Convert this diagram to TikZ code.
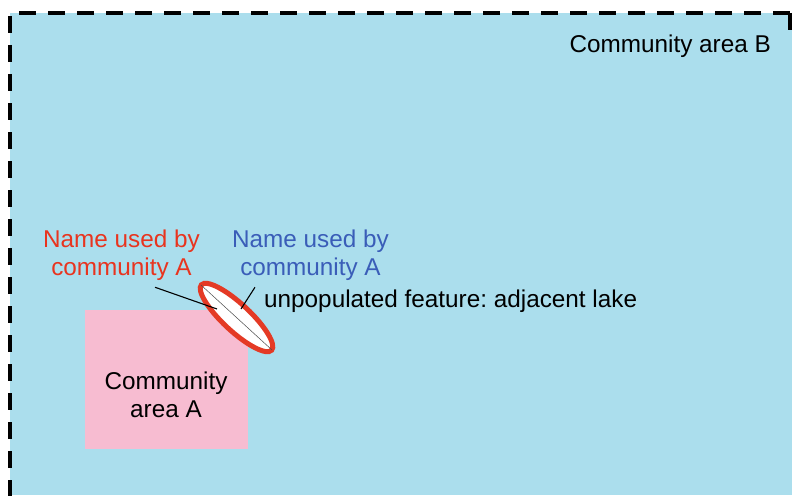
\documentclass[tikz,border=0pt]{standalone}
\usepackage{fontspec}
\setmainfont{Liberation Sans}
\frenchspacing
\definecolor{areaB}{HTML}{ABDEED}
\definecolor{areaA}{HTML}{F7BCD1}
\definecolor{namered}{HTML}{E8341F}
\definecolor{nameblue}{HTML}{3A5DB8}
\definecolor{lakered}{HTML}{E43A25}
\tikzset{
  lbl/.style={font=\fontsize{24.3}{27.5}\selectfont, align=center, inner sep=0pt},
  leader/.style={draw=black, line width=1.1pt},
}
\begin{document}
\begin{tikzpicture}[x=1pt,y=-1pt]
\useasboundingbox (0,0) rectangle (792,495);
\begin{scope}
\clip (0,0) rectangle (792,495);
% community area B with dashed boundary
\fill[areaB] (10,13) rectangle (792,495);
\draw[line width=4pt, dash pattern=on 17pt off 12pt] (790,13) -- (10,13) -- (10,510);
\draw[line width=4pt, dash pattern=on 17pt off 12pt] (790,13) -- (790,40);
\end{scope}
% community area A
\fill[areaA] (85,310) rectangle (248,449);
\node[lbl] (areaA) at (166,395) {Community\\area A};
\node[lbl, anchor=north east] (areaB) at (771,35) {Community area B};
% lake
\draw[lakered, fill=white, line width=5pt, rotate around={-43:(236.5,317.5)}]
  (236.5,317.5) ellipse [x radius=48pt, y radius=13.5pt];
\coordinate (lakeNW) at (201,285);
\coordinate (lakeSE) at (272,350);
\draw[black!70, line width=0.5pt] (lakeNW) -- (lakeSE);
% labels
\node[lbl, text=namered] (redname) at (121.5,255) {Name used by\\community A};
\node[lbl, text=nameblue] (bluename) at (310.5,255) {Name used by\\community A};
\node[lbl, anchor=west] (lake) at (264,301) {unpopulated feature: adjacent lake};
\coordinate (redend) at (217,309);
\coordinate (blueend) at (241,309);
\draw[leader] (redname.south east) ++(-45,7) -- (redend);
\draw[leader] (bluename.south west) ++(23,7) -- (blueend);
\end{tikzpicture}
\end{document}
